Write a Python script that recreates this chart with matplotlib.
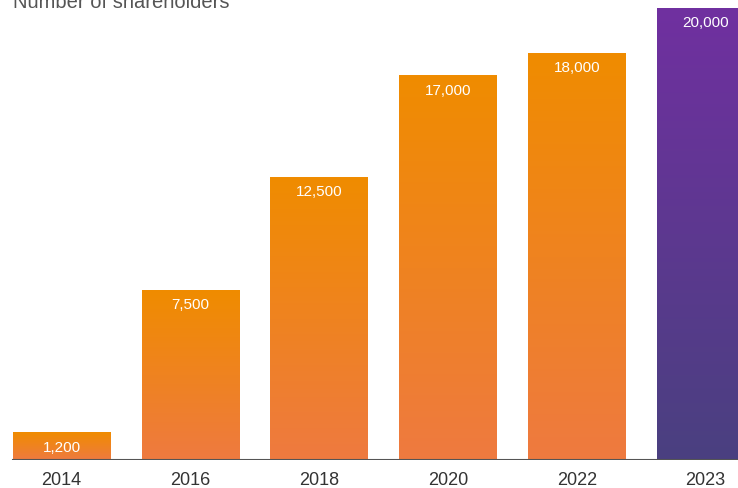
import matplotlib
matplotlib.use('Agg')
import matplotlib.pyplot as plt
import numpy as np
from matplotlib.colors import LinearSegmentedColormap

plt.rcParams['font.family'] = ['Liberation Sans', 'DejaVu Sans']

years = ['2014', '2016', '2018', '2020', '2022', '2023']
shareholders = [1200, 7500, 12500, 17000, 18000, 20000]
value_labels = ['1,200', '7,500', '12,500', '17,000', '18,000', '20,000']

orange = LinearSegmentedColormap.from_list('orange', ['#EE7A40', '#F08C00'])
purple = LinearSegmentedColormap.from_list('purple', ['#4A4080', '#7030A0'])

W, H = 738, 489
fig = plt.figure(figsize=(W / 100, H / 100), dpi=100)
base_px = 28
ax = fig.add_axes([0, base_px / H, 1, 1 - base_px / H])

x = np.arange(len(years))
width = 0.755
spacing = 128.8
ax.set_xlim(-61.5 / spacing, (W - 61.5) / spacing)
ax.set_ylim(0, 20000 * (H - base_px) / 452)

grad = np.linspace(0, 1, 256).reshape(-1, 1)
for i, (xi, v) in enumerate(zip(x, shareholders)):
    cmap = purple if i == len(years) - 1 else orange
    ax.imshow(grad, cmap=cmap, origin='lower', aspect='auto',
              extent=(xi - width / 2, xi + width / 2, 0, v), zorder=2)
    ax.annotate(value_labels[i], (xi, v), xytext=(0, -10), textcoords='offset points',
                ha='center', va='center', color='white', fontsize=11, zorder=3)

ax.axhline(0, xmin=(x[0] - width / 2 - ax.get_xlim()[0]) / np.ptp(ax.get_xlim()),
           color='#555555', lw=1.5, zorder=4)
ax.axis('off')

for xi, yr in zip(x, years):
    ax.annotate(yr, (xi, 0), xytext=(0, -14), textcoords='offset points',
                ha='center', va='center', color='#333333', fontsize=13,
                annotation_clip=False)

fig.text(13 / W, (H - 8) / H, 'Number of shareholders', ha='left', va='baseline',
         fontsize=14.5, color='#555555')

fig.savefig('out.png', dpi=100)
